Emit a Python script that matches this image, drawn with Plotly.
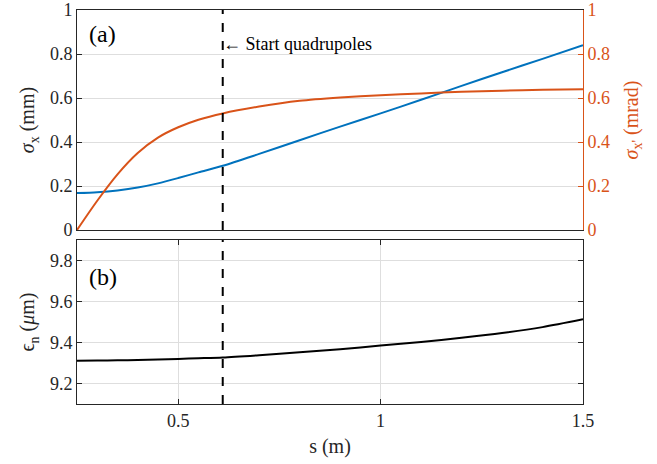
import plotly.graph_objects as go

# beam line position (m)
s = [0.25, 0.30, 0.35, 0.40, 0.45, 0.50, 0.55, 0.61, 0.70, 0.80, 0.90,
     1.00, 1.10, 1.20, 1.30, 1.40, 1.50]

# rms beam size sigma_x (mm)
sigma_x = [0.168, 0.172, 0.180, 0.193, 0.212, 0.236, 0.262, 0.292, 0.346,
           0.408, 0.470, 0.530, 0.592, 0.655, 0.717, 0.778, 0.840]

# rms divergence sigma_x' (mrad)
sigma_xp = [0.0, 0.133, 0.253, 0.350, 0.420, 0.467, 0.501, 0.530, 0.561,
            0.587, 0.602, 0.613, 0.621, 0.628, 0.633, 0.637, 0.640]

# normalised emittance (um)
eps_n = [9.311, 9.312, 9.313, 9.315, 9.317, 9.320, 9.323, 9.327, 9.338,
         9.352, 9.367, 9.385, 9.403, 9.423, 9.446, 9.475, 9.513]

s_quad = 0.61

BLUE = "#0072BD"
ORANGE = "#D95319"
AX = "#262626"
GRID = "#dedede"
FONT = "Liberation Serif, Times New Roman, Times, DejaVu Serif, serif"
TITLE_SIZE = 20

line_kw = dict(width=2, shape="spline", smoothing=0.8)

fig = go.Figure()
fig.add_trace(go.Scatter(x=s, y=sigma_x, mode="lines", line=dict(color=BLUE, **line_kw),
                         xaxis="x", yaxis="y"))
fig.add_trace(go.Scatter(x=s, y=sigma_xp, mode="lines", line=dict(color=ORANGE, **line_kw),
                         xaxis="x", yaxis="y2"))
fig.add_trace(go.Scatter(x=s, y=eps_n, mode="lines", line=dict(color="black", **line_kw),
                         xaxis="x2", yaxis="y3"))

top_dom = [0.4416, 1.0]
bot_dom = [0.0, 0.4162]

common = dict(showline=True, linecolor=AX, linewidth=1, ticklen=5, automargin=False,
              tickcolor=AX, zeroline=False,
              tickfont=dict(family=FONT, size=18, color=AX))

fig.update_layout(
    width=657, height=464,
    margin=dict(l=77, r=74, t=10, b=60),
    paper_bgcolor="white", plot_bgcolor="white",
    showlegend=False,
    font=dict(family=FONT, size=18, color=AX),
    xaxis=dict(domain=[0, 1], anchor="y", range=[0.25, 1.5], showticklabels=False,
               showgrid=False, mirror=True, ticks="", **common),
    yaxis=dict(domain=top_dom, anchor="x", range=[0, 1], dtick=0.2, showgrid=True,
               gridcolor=GRID, mirror=False, ticks="inside",
               title=dict(text="<i>σ</i><sub>x</sub> (mm)", standoff=9,
                          font=dict(family=FONT, size=TITLE_SIZE, color=AX)),
               **common),
    yaxis2=dict(overlaying="y", side="right", anchor="x", range=[0, 1], dtick=0.2,
                showgrid=False, showline=True, linecolor=ORANGE, linewidth=1,
                ticks="inside", ticklen=5, tickcolor=ORANGE, zeroline=False, automargin=False,
                tickfont=dict(family=FONT, size=18, color=ORANGE),
                title=dict(text="<i>σ</i><sub>x'</sub> (mrad)", standoff=14,
                           font=dict(family=FONT, size=TITLE_SIZE, color=ORANGE))),
    xaxis2=dict(domain=[0, 1], anchor="y3", range=[0.25, 1.5], tickvals=[0.5, 1, 1.5],
                ticktext=["0.5", "1", "1.5"], showgrid=True, gridcolor=GRID, mirror="ticks",
                ticks="inside",
                title=dict(text="s (m)", standoff=9,
                           font=dict(family=FONT, size=TITLE_SIZE, color=AX)),
                **common),
    yaxis3=dict(domain=bot_dom, anchor="x2", range=[9.1, 9.9], tickvals=[9.2, 9.4, 9.6, 9.8],
                showgrid=True, gridcolor=GRID, mirror="ticks", ticks="inside",
                title=dict(text="ϵ<sub>n</sub> (<i>μ</i>m)", standoff=9,
                           font=dict(family=FONT, size=TITLE_SIZE, color=AX)),
                **common),
)

# start of the quadrupole section
fig.add_shape(type="line", xref="x", yref="y domain", x0=s_quad, x1=s_quad, y0=0, y1=1,
              line=dict(color="black", width=2, dash="dash"))
fig.add_shape(type="line", xref="x2", yref="y3 domain", x0=s_quad, x1=s_quad, y0=0, y1=1,
              line=dict(color="black", width=2, dash="dash"))

fig.add_annotation(x=s_quad, y=0.845, xref="x", yref="y", text="← Start quadrupoles",
                   showarrow=False, xanchor="left", yanchor="middle", xshift=-2,
                   font=dict(family=FONT, size=18, color="black"))
fig.add_annotation(x=0.02, y=0.96, xref="x domain", yref="y domain", text="(a)",
                   showarrow=False, xanchor="left", yanchor="top",
                   font=dict(family=FONT, size=24, color="black"))
fig.add_annotation(x=0.02, y=0.867, xref="x2 domain", yref="y3 domain", text="(b)",
                   showarrow=False, xanchor="left", yanchor="top",
                   font=dict(family=FONT, size=24, color="black"))

fig.write_html("out.html")
